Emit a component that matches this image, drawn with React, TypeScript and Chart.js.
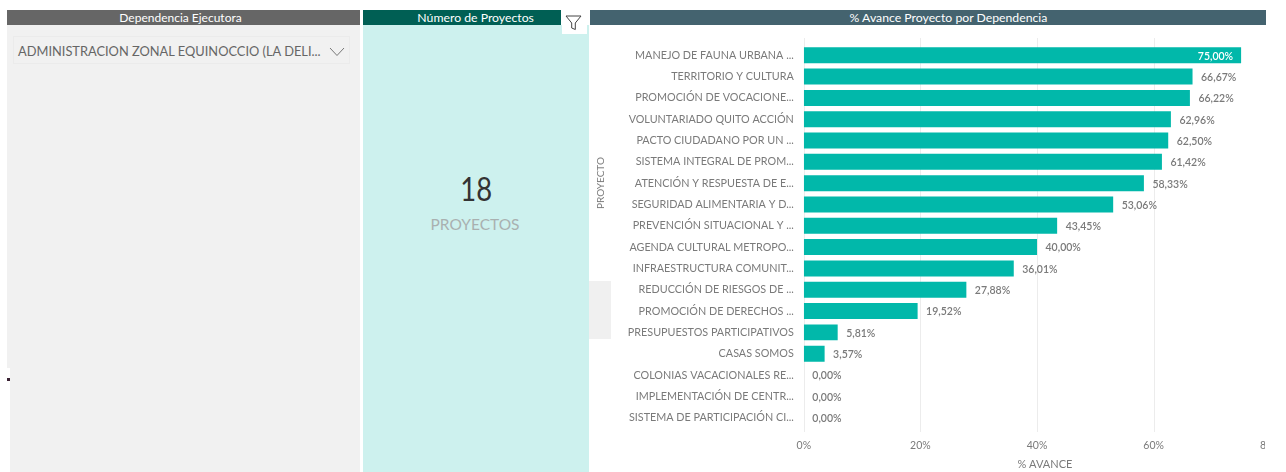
import React, { useEffect, useRef } from "react";
import { Chart, registerables } from "chart.js";

Chart.register(...registerables);

const projects = [
  "MANEJO DE FAUNA URBANA ...",
  "TERRITORIO Y CULTURA",
  "PROMOCIÓN DE VOCACIONE...",
  "VOLUNTARIADO QUITO ACCIÓN",
  "PACTO CIUDADANO POR UN ...",
  "SISTEMA INTEGRAL DE PROM...",
  "ATENCIÓN Y RESPUESTA DE E...",
  "SEGURIDAD ALIMENTARIA Y D...",
  "PREVENCIÓN SITUACIONAL Y ...",
  "AGENDA CULTURAL METROPO...",
  "INFRAESTRUCTURA COMUNIT...",
  "REDUCCIÓN DE RIESGOS DE ...",
  "PROMOCIÓN DE DERECHOS ...",
  "PRESUPUESTOS PARTICIPATIVOS",
  "CASAS SOMOS",
  "COLONIAS VACACIONALES RE...",
  "IMPLEMENTACIÓN DE CENTR...",
  "SISTEMA DE PARTICIPACIÓN CI...",
];
const avance = [75.0, 66.67, 66.22, 62.96, 62.5, 61.42, 58.33, 53.06, 43.45, 40.0, 36.01, 27.88, 19.52, 5.81, 3.57, 0, 0, 0];

const FONT = "Lato, 'Open Sans', sans-serif";
const GRAY = "#7a7a7a";

const extendedGrid = {
  id: "extendedGrid",
  beforeDatasetsDraw(chart: any) {
    const { ctx, scales } = chart;
    ctx.save();
    ctx.strokeStyle = "#ececec";
    ctx.lineWidth = 1;
    scales.x.ticks.forEach((t: any) => {
      const x = Math.round(scales.x.getPixelForValue(t.value)) + 0.5;
      ctx.beginPath();
      ctx.moveTo(x, 38);
      ctx.lineTo(x, 432);
      ctx.stroke();
    });
    ctx.restore();
  },
};

const valueLabels = {
  id: "valueLabels",
  afterDatasetsDraw(chart: any) {
    const { ctx } = chart;
    const meta = chart.getDatasetMeta(0);
    ctx.save();
    ctx.font = `600 10.5px ${FONT}`;
    ctx.textBaseline = "middle";
    meta.data.forEach((bar: any, i: number) => {
      const text = avance[i].toFixed(2).replace(".", ",") + "%";
      if (avance[i] >= 70) {
        ctx.fillStyle = "#ffffff";
        ctx.textAlign = "right";
        ctx.fillText(text, bar.x - 8, bar.y + 1);
      } else {
        ctx.fillStyle = GRAY;
        ctx.textAlign = "left";
        ctx.fillText(text, bar.x + 8.5, bar.y + 1);
      }
    });
    ctx.restore();
  },
};

const box = (x: number, y: number, w: number, h: number, background: string): React.CSSProperties => ({
  position: "absolute",
  left: x,
  top: y,
  width: w,
  height: h,
  background,
});

const headerText: React.CSSProperties = {
  color: "#ffffff",
  fontFamily: FONT,
  fontSize: 12,
  lineHeight: "15.5px",
  textAlign: "center",
  whiteSpace: "nowrap",
  overflow: "hidden",
};

const Shifted = ({ children, dx = 0, sx = 1 }: { children: React.ReactNode; dx?: number; sx?: number }) => (
  <span style={{ display: "inline-block", transform: `translateX(${dx}px) scaleX(${sx})`, transformOrigin: "center" }}>{children}</span>
);

export default function App() {
  const ref = useRef<HTMLCanvasElement>(null);

  useEffect(() => {
    const chart = new Chart(ref.current!, {
      type: "bar",
      data: {
        labels: projects,
        datasets: [
          {
            data: avance,
            backgroundColor: "#01b8aa",
            categoryPercentage: 0.75,
            barPercentage: 1,
          },
        ],
      },
      options: {
        indexAxis: "y",
        responsive: false,
        animation: false,
        layout: { autoPadding: false, padding: { top: 44.6, right: 1, left: 0, bottom: 0 } },
        plugins: { legend: { display: false }, tooltip: { enabled: false } },
        scales: {
          x: {
            min: 0,
            max: 82.7,
            grid: { display: false },
            border: { display: false },
            afterFit: (s: any) => {
              s.height = 43.7;
            },
            title: {
              display: true,
              text: "% AVANCE",
              color: GRAY,
              font: { family: FONT, size: 11 },
              padding: { top: 3, bottom: 1 },
            },
            ticks: {
              stepSize: 20,
              includeBounds: false,
              autoSkip: false,
              maxRotation: 0,
              color: GRAY,
              padding: 3,
              font: { family: FONT, size: 10.5 },
              callback: (v: any) => `${v}%`,
            },
          },
          y: {
            grid: { display: false },
            border: { display: false },
            afterFit: (s: any) => {
              s.width = 213.8;
            },
            ticks: {
              autoSkip: false,
              color: GRAY,
              padding: 2,
              font: { family: FONT, size: 10.8 },
            },
          },
        },
      },
      plugins: [extendedGrid, valueLabels],
    } as any);
    return () => chart.destroy();
  }, []);

  return (
    <div style={{ position: "absolute", left: 0, top: 0, width: 1286, height: 472, overflow: "hidden", background: "#fff", filter: "blur(0.35px)" }}>
      {/* left slicer */}
      <div style={box(7, 25, 353, 343, "#f1f1f1")} />
      <div style={box(9.5, 368, 350.5, 104, "#f1f1f1")} />
      <div style={box(7, 378, 2.5, 3, "#3a2233")} />
      <div style={{ ...box(7, 9.5, 353, 15.5, "#666666"), ...headerText }}>
        <Shifted dx={-3}>Dependencia Ejecutora</Shifted>
      </div>
      <div style={{ ...box(12.5, 36, 337.5, 28, "#f1f1f1"), boxSizing: "border-box", border: "1px solid #ebebeb" }} />
      <div style={{ position: "absolute", left: 18, top: 43, color: "#666", fontFamily: FONT, fontSize: 12.85, lineHeight: "16px", whiteSpace: "nowrap" }}>
        ADMINISTRACION ZONAL EQUINOCCIO (LA DELI...
      </div>
      <svg style={{ position: "absolute", left: 329, top: 47 }} width="16" height="10" viewBox="0 0 16 10">
        <path d="M1 1 L8 8.5 L15 1" fill="none" stroke="#777" strokeWidth="1" />
      </svg>

      {/* card */}
      <div style={box(363, 25, 226, 447, "#cdf1ee")} />
      <div style={{ ...box(363, 9.5, 198, 15.5, "#005f54"), ...headerText }}>
        <Shifted dx={13.5} sx={1.02}>Número de Proyectos</Shifted>
      </div>
      <div style={box(561.5, 9, 25, 25, "#ffffff")} />
      <svg style={{ position: "absolute", left: 565, top: 15 }} width="17" height="16" viewBox="0 0 17 16">
        <path d="M1 1 H16 L10.3 8 V14.5 L6.7 13 V8 Z" fill="none" stroke="#444" strokeWidth="1" />
      </svg>
      <div style={{ position: "absolute", left: 363, width: 226, top: 168, textAlign: "center", color: "#333", fontFamily: FONT, fontSize: 33, lineHeight: "40px" }}>
        <Shifted sx={0.83}>18</Shifted>
      </div>
      <div style={{ position: "absolute", left: 362, width: 226, top: 214, textAlign: "center", color: "#a9b0b0", fontFamily: FONT, fontSize: 15.5, lineHeight: "20px" }}>
        <Shifted>PROYECTOS</Shifted>
      </div>

      {/* bar chart */}
      <div style={box(589, 281, 22, 58, "#f0f0f0")} />
      <div style={{ position: "absolute", left: 590, top: 0, width: 675, height: 472, overflow: "hidden" }}>
        <canvas ref={ref} width={697} height={472} style={{ display: "block", width: 697, height: 472 }} />
      </div>
      <div style={{ ...box(590, 9.5, 675.6, 15.5, "#44636f"), ...headerText }}>
        <Shifted dx={20.5} sx={1.02}>% Avance Proyecto por Dependencia</Shifted>
      </div>
      <div
        style={{
          position: "absolute",
          left: 600,
          top: 183,
          transform: "translate(-50%,-50%) rotate(-90deg)",
          color: GRAY,
          fontFamily: FONT,
          fontSize: 10,
          whiteSpace: "nowrap",
        }}
      >
        PROYECTO
      </div>
    </div>
  );
}
